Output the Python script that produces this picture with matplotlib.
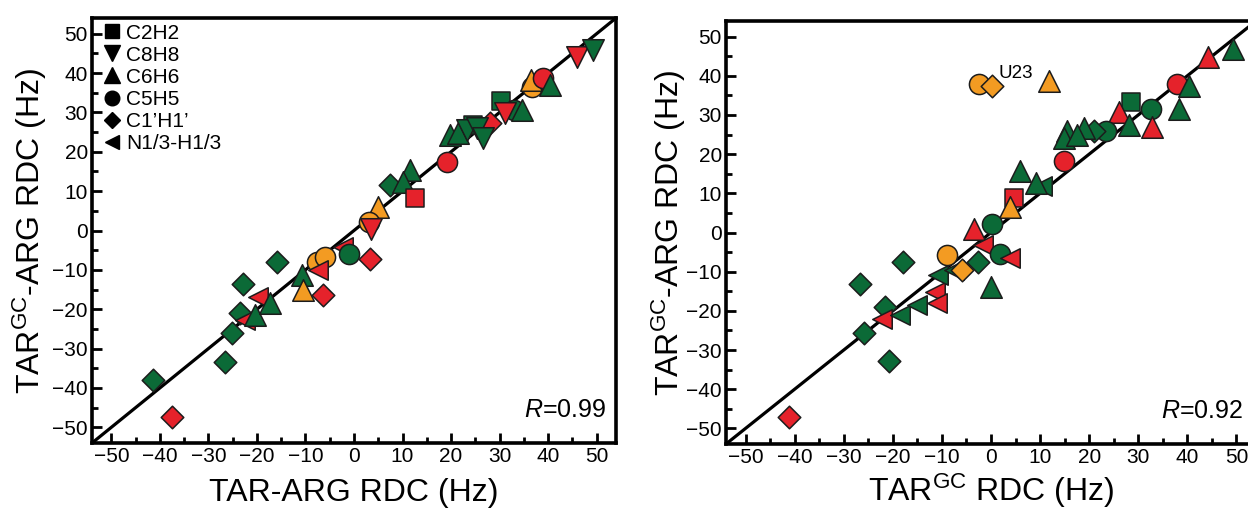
import matplotlib
matplotlib.use("Agg")
import matplotlib.pyplot as plt
from matplotlib.lines import Line2D
from matplotlib.ticker import MultipleLocator

plt.rcParams['font.family'] = ['Liberation Sans', 'DejaVu Sans']
plt.rcParams['mathtext.fontset'] = 'custom'
plt.rcParams['mathtext.rm'] = 'Liberation Sans'
plt.rcParams['mathtext.it'] = 'Liberation Sans:italic'

# ---------------- data ----------------
legend_labels = ["C2H2", "C8H8", "C6H6", "C5H5", "C1\u2019H1\u2019", "N1/3-H1/3"]
legend_codes = ["sq", "dn", "up", "ci", "di", "lt"]

# left panel: TAR-ARG vs TARGC-ARG
left_x = [45.9, 49.3, 36.6, 36.4, 39.0, 40.4, 30.2, 33.0, 34.6, 31.1, 28.0,
          19.8, 21.5, 24.6, 23.2, 25.3, 26.6, 19.1, 7.4, 11.5, 10.1, 12.6,
          5.0, 3.0, 3.6, -2.2, -1.0, 3.4, -41.4, -37.6, -26.6, -25.2, -22.9,
          -15.9, -23.5, -22.5, -19.7, -20.4, -17.3, -10.8, -10.6, -7.7, -6.0,
          -7.4, -6.3]
left_y = [44.2, 45.9, 36.5, 38.2, 38.7, 37.0, 32.9, 30.5, 30.6, 29.8, 27.3,
          24.3, 24.8, 26.8, 25.5, 26.0, 23.5, 17.5, 11.6, 15.4, 12.4, 8.3,
          6.0, 2.2, 0.3, -4.1, -6.0, -7.3, -38.0, -47.5, -33.3, -26.1, -13.7,
          -7.9, -21.0, -22.7, -16.8, -21.5, -18.5, -11.3, -15.1, -7.9, -6.7,
          -10.0, -16.4]
left_shape = ["dn", "dn", "ci", "up", "ci", "up", "sq", "ci", "up", "dn", "di",
              "up", "up", "sq", "dn", "dn", "dn", "ci", "di", "up", "up", "sq",
              "up", "ci", "dn", "lt", "ci", "di", "di", "di", "di", "di", "di",
              "di", "di", "lt", "lt", "up", "up", "up", "up", "ci", "ci",
              "lt", "di"]
left_color = ["R", "G", "O", "O", "R", "G", "G", "G", "G", "R", "R",
              "G", "G", "G", "G", "G", "G", "R", "G", "G", "G", "R",
              "O", "O", "R", "R", "G", "R", "G", "R", "G", "G", "G",
              "G", "G", "R", "R", "G", "G", "G", "O", "O", "O",
              "R", "R"]

# right panel: TARGC vs TARGC-ARG
right_x = [-2.5, 0.2, 11.8, 49.3, 44.2, 38.0, 40.4, 38.4, 28.5, 26.1, 32.6,
           28.2, 32.9, 23.4, 21.0, 15.5, 19.0, 14.9, 17.6, 14.9, 6.0, 10.4,
           9.1, 4.6, 3.9, 0.2, -3.5, -1.6, 1.9, 3.9, -2.7, -0.1, -41.2,
           -25.9, -26.6, -18.0, -20.8, -21.6, -22.3, -18.5, -15.1, -11.4,
           -11.0, -10.7, -7.6, -9.0, -5.9]
right_y = [38.0, 37.5, 38.6, 46.8, 44.9, 38.0, 37.5, 31.6, 33.3, 30.8, 31.6,
           27.4, 27.0, 25.8, 25.8, 25.8, 26.6, 24.1, 24.9, 18.2, 15.7, 11.9,
           12.7, 8.9, 6.4, 2.2, 0.8, -3.3, -5.4, -6.6, -7.5, -13.8, -47.1,
           -25.6, -13.1, -7.5, -32.9, -18.9, -22.2, -21.0, -18.4, -15.1,
           -18.0, -10.9, -9.6, -5.8, -9.6]
right_shape = ["ci", "di", "up", "up", "up", "ci", "up", "up", "sq", "up", "ci",
               "up", "up", "ci", "di", "up", "up", "up", "up", "ci", "up", "lt",
               "up", "sq", "up", "ci", "up", "lt", "ci", "lt", "di", "up", "di",
               "di", "di", "di", "di", "di", "lt", "lt", "lt", "lt",
               "lt", "lt", "lt", "ci", "di"]
right_color = ["O", "O", "O", "G", "R", "R", "G", "G", "G", "R", "G",
               "G", "R", "G", "G", "G", "G", "G", "G", "R", "G", "G",
               "G", "R", "O", "G", "R", "R", "G", "R", "G", "G", "R",
               "G", "G", "G", "G", "G", "R", "G", "G", "R",
               "R", "G", "G", "O", "O"]

left_R = "0.99"
right_R = "0.92"
outlier_label = "U23"
outlier_pos = (1.5, 40.5)

# ---------------- style ----------------
marker_map = {"sq": "s", "dn": "v", "up": "^", "ci": "o", "di": "D", "lt": "<"}
size_map = {"sq": 13.0, "dn": 15.5, "up": 15.5, "ci": 14.5, "di": 11.5, "lt": 14.0}
color_map = {"G": "#0b6a37", "R": "#e5222b", "O": "#f39b22"}
edge = "#1c1c1c"

fig = plt.figure(figsize=(12.48, 5.08), dpi=100)
W, H = 1248, 508
axL = fig.add_axes([92 / W, (H - 443) / H, 524 / W, 425 / H])
axR = fig.add_axes([726 / W, (H - 444) / H, 530 / W, 423 / H])

lim = 54


def style_axes(ax):
    ax.set_xlim(-lim, lim)
    ax.set_ylim(-lim, lim)
    for s in ax.spines.values():
        s.set_linewidth(2.6)
    ax.xaxis.set_major_locator(MultipleLocator(10))
    ax.xaxis.set_minor_locator(MultipleLocator(5))
    ax.yaxis.set_major_locator(MultipleLocator(10))
    ax.yaxis.set_minor_locator(MultipleLocator(5))
    ax.tick_params(which="both", direction="in", top=False, right=False,
                   labelsize=15, pad=3)
    ax.tick_params(which="major", length=7, width=2.0)
    ax.tick_params(which="minor", length=4, width=2.0)
    ax.plot([-lim, lim], [-lim, lim], color="black", lw=2.3, zorder=1,
            solid_capstyle="butt")


def draw_points(ax, xs, ys, shapes, colors):
    for x, y, sh, c in zip(xs, ys, shapes, colors):
        ax.scatter([x], [y], marker=marker_map[sh], s=size_map[sh] ** 2,
                   facecolor=color_map[c], edgecolor=edge, linewidth=1.1,
                   zorder=2)


for ax in (axL, axR):
    style_axes(ax)

draw_points(axL, left_x, left_y, left_shape, left_color)
draw_points(axR, right_x, right_y, right_shape, right_color)

ylab = r"TAR$^{\mathrm{GC}}$-ARG RDC (Hz)"
axL.set_ylabel(ylab, fontsize=23)
axR.set_ylabel(ylab, fontsize=23)
axL.set_xlabel("TAR-ARG RDC (Hz)", fontsize=23, va="baseline")
axR.set_xlabel(r"TAR$^{\mathrm{GC}}$ RDC (Hz)", fontsize=23, va="baseline")
axL.yaxis.set_label_coords(-0.083, 0.5)
axR.yaxis.set_label_coords(-0.071, 0.5)
axL.xaxis.set_label_coords(0.5, -0.137)
axR.xaxis.set_label_coords(0.5, -0.135)

axL.text(52, -45.6, r"$\it{R}$=" + left_R, fontsize=18, ha="right", va="center")
axR.text(51.3, -45.6, r"$\it{R}$=" + right_R, fontsize=18, ha="right", va="center")
axR.text(outlier_pos[0], outlier_pos[1], outlier_label, fontsize=13.5,
         ha="left", va="center", zorder=3)

handles = [Line2D([], [], linestyle="none", marker=marker_map[c], color="black",
                  markersize={"sq": 10, "dn": 11, "up": 11, "ci": 10.5,
                              "di": 8.5, "lt": 10.5}[c])
           for c in legend_codes]
leg = axL.legend(handles, legend_labels, loc="upper left", frameon=False,
                 fontsize=15, handlelength=0.7, handletextpad=0.34,
                 labelspacing=0.15, borderaxespad=0.0, borderpad=0.0,
                 bbox_to_anchor=(0.024, 0.987))

fig.savefig("out.png", dpi=100)
